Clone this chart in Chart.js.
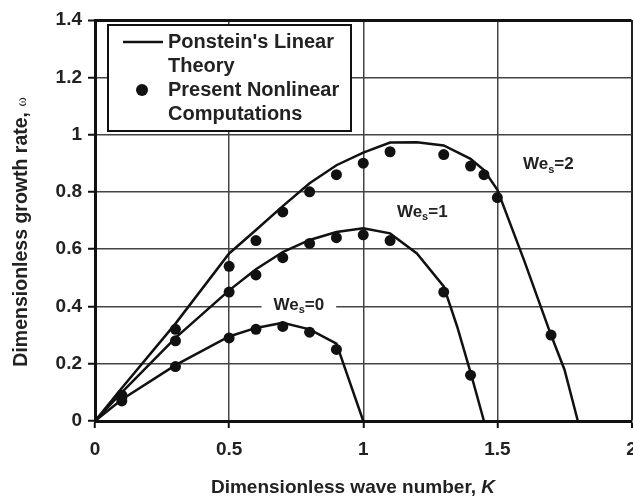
<!DOCTYPE html>
<html>
<head>
<meta charset="utf-8">
<script src="https://cdn.jsdelivr.net/npm/chart.js@4.4.1/dist/chart.umd.min.js"></script>
<style>
  html, body { margin: 0; padding: 0; background: #fff; overflow: hidden; }
  /* a little wider than the window so the "2" tick label is cut at the edge */
  #wrap { width: 637px; height: 499px; position: relative; }
</style>
</head>
<body>
<div id="wrap"><canvas id="growth-chart"></canvas></div>
<script>
// Ponstein's linear theory (solid lines), one per We_s
const theoryK0 = [0, 0.1, 0.3, 0.5, 0.6, 0.7, 0.8, 0.9, 1.0];
const theoryW0 = [0, 0.075, 0.195, 0.295, 0.325, 0.343, 0.32, 0.27, 0];

const theoryK1 = [0, 0.1, 0.3, 0.5, 0.6, 0.7, 0.8, 0.9, 1.0, 1.1, 1.2, 1.3, 1.35, 1.4, 1.45];
const theoryW1 = [0, 0.1, 0.29, 0.456, 0.53, 0.59, 0.632, 0.66, 0.673, 0.655, 0.585, 0.47, 0.33, 0.17, 0];

const theoryK2 = [0, 0.1, 0.3, 0.5, 0.6, 0.7, 0.8, 0.9, 1.0, 1.1, 1.2, 1.3, 1.4, 1.45, 1.5, 1.6, 1.7, 1.75, 1.8];
const theoryW2 = [0, 0.115, 0.34, 0.585, 0.667, 0.75, 0.83, 0.893, 0.937, 0.972, 0.973, 0.962, 0.915, 0.876, 0.807, 0.56, 0.3, 0.18, 0];

// present nonlinear computations (dots)
const compK0 = [0.1, 0.3, 0.5, 0.6, 0.7, 0.8, 0.9];
const compW0 = [0.07, 0.19, 0.29, 0.32, 0.33, 0.31, 0.25];

const compK1 = [0.1, 0.3, 0.5, 0.6, 0.7, 0.8, 0.9, 1.0, 1.1, 1.3, 1.4];
const compW1 = [0.08, 0.28, 0.45, 0.51, 0.57, 0.62, 0.64, 0.65, 0.63, 0.45, 0.16];

const compK2 = [0.1, 0.3, 0.5, 0.6, 0.7, 0.8, 0.9, 1.0, 1.1, 1.3, 1.4, 1.45, 1.5, 1.7];
const compW2 = [0.09, 0.32, 0.54, 0.63, 0.73, 0.80, 0.86, 0.90, 0.94, 0.93, 0.89, 0.86, 0.78, 0.30];

const curveLabels = ["0", "1", "2"];
const labelK = [0.76, 1.22, 1.69];
const labelW = [0.405, 0.73, 0.895];

const FONT = "'Liberation Sans', Arial, sans-serif";

function pts(xs, ys) {
  return xs.map(function (x, i) { return { x: x, y: ys[i] }; });
}

function lineSet(xs, ys) {
  return {
    data: pts(xs, ys), showLine: true, borderColor: "#111", borderWidth: 2.5,
    pointRadius: 0, fill: false, tension: 0, order: 2
  };
}

function dotSet(xs, ys) {
  return {
    data: pts(xs, ys), showLine: false, backgroundColor: "#111", borderColor: "#111",
    pointRadius: 5.5, pointBorderWidth: 0, order: 1
  };
}

const annotations = {
  id: "annotations",
  afterDraw: function (chart) {
    const ctx = chart.ctx;
    const xs = chart.scales.x, ys = chart.scales.y;
    const area = chart.chartArea;
    ctx.save();

    // We_s labels
    curveLabels.forEach(function (lab, i) {
      const cx = xs.getPixelForValue(labelK[i]);
      const cy = ys.getPixelForValue(labelW[i]);
      ctx.font = "bold 17px " + FONT;
      const w1 = ctx.measureText("We").width;
      const w3 = ctx.measureText("=" + lab).width;
      ctx.font = "bold 11px " + FONT;
      const w2 = ctx.measureText("s").width;
      const total = w1 + w2 + w3;
      let x = cx - total / 2;
      if (i === 0) {
        ctx.fillStyle = "#fff";
        ctx.fillRect(x - 12, cy - 10, total + 24, 20);
      }
      ctx.fillStyle = "#222";
      ctx.textBaseline = "middle";
      ctx.textAlign = "left";
      ctx.font = "bold 17px " + FONT;
      ctx.fillText("We", x, cy);
      ctx.font = "bold 11px " + FONT;
      ctx.fillText("s", x + w1, cy + 5);
      ctx.font = "bold 17px " + FONT;
      ctx.fillText("=" + lab, x + w1 + w2, cy);
    });

    // legend box
    const lx = area.left + 13, ly = area.top + 5, lw = 243, lh = 106;
    ctx.fillStyle = "#fff";
    ctx.fillRect(lx, ly, lw, lh);
    ctx.strokeStyle = "#111";
    ctx.lineWidth = 2;
    ctx.strokeRect(lx, ly, lw, lh);
    ctx.beginPath();
    ctx.moveTo(lx + 15, ly + 17);
    ctx.lineTo(lx + 55, ly + 17);
    ctx.lineWidth = 2.5;
    ctx.stroke();
    ctx.beginPath();
    ctx.arc(lx + 34, ly + 65, 6, 0, Math.PI * 2);
    ctx.fillStyle = "#111";
    ctx.fill();
    ctx.fillStyle = "#222";
    ctx.font = "bold 20px " + FONT;
    ctx.textBaseline = "middle";
    ctx.fillText("Ponstein's Linear", lx + 60, ly + 17);
    ctx.fillText("Theory", lx + 60, ly + 41);
    ctx.fillText("Present Nonlinear", lx + 60, ly + 65);
    ctx.fillText("Computations", lx + 60, ly + 89);

    // x axis title with italic K
    ctx.font = "bold 19px " + FONT;
    const t1 = "Dimensionless wave number, ";
    const tw1 = ctx.measureText(t1).width;
    ctx.font = "italic bold 19px " + FONT;
    const tw2 = ctx.measureText("K").width;
    let tx = 353 - (tw1 + tw2) / 2;
    ctx.font = "bold 19px " + FONT;
    ctx.fillText(t1, tx, 488);
    ctx.font = "italic bold 19px " + FONT;
    ctx.fillText("K", tx + tw1, 488);

    // y axis title with omega
    ctx.translate(22, 232);
    ctx.rotate(-Math.PI / 2);
    ctx.font = "bold 19.5px " + FONT;
    const y1 = "Dimensionless growth rate, ";
    const yw1 = ctx.measureText(y1).width;
    ctx.font = "14px 'Liberation Serif', serif";
    const yw2 = ctx.measureText("\u03c9").width;
    const ty = -(yw1 + yw2) / 2;
    ctx.font = "bold 19.5px " + FONT;
    ctx.fillText(y1, ty, 0);
    ctx.font = "14px 'Liberation Serif', serif";
    ctx.fillText("\u03c9", ty + yw1, 0);
    ctx.restore();
  }
};

new Chart(document.getElementById("growth-chart"), {
  type: "scatter",
  data: {
    datasets: [
      lineSet(theoryK0, theoryW0),
      lineSet(theoryK1, theoryW1),
      lineSet(theoryK2, theoryW2),
      dotSet(compK0, compW0),
      dotSet(compK1, compW1),
      dotSet(compK2, compW2)
    ]
  },
  options: {
    responsive: true,
    maintainAspectRatio: false,
    animation: false,
    devicePixelRatio: 1,
    layout: { padding: { top: 20, right: 0, left: 0, bottom: 0 } },
    plugins: { legend: { display: false }, tooltip: { enabled: false } },
    scales: {
      x: {
        type: "linear", min: 0, max: 2,
        ticks: {
          stepSize: 0.5, padding: 10, color: "#222",
          font: { family: FONT, size: 19, weight: "bold" },
          callback: function (v) { return String(+v.toFixed(1)); }
        },
        grid: {
          color: function (c) { return c.tick && c.tick.value === 2 ? "#222" : "#444"; },
          lineWidth: function (c) { return c.tick && c.tick.value === 2 ? 2 : 1.5; },
          tickLength: 7, tickColor: "#111", tickWidth: 2
        },
        border: { color: "#111", width: 3 },
        afterFit: function (s) { s.height = 78; s.paddingLeft = 0; s.paddingRight = 0; }
      },
      y: {
        type: "linear", min: 0, max: 1.4,
        ticks: {
          stepSize: 0.2, padding: 6, color: "#222",
          font: { family: FONT, size: 19, weight: "bold" },
          callback: function (v) { return String(+v.toFixed(1)); }
        },
        grid: {
          color: function (c) { return c.tick && Math.abs(c.tick.value - 1.4) < 1e-6 ? "#111" : "#444"; },
          lineWidth: function (c) { return c.tick && Math.abs(c.tick.value - 1.4) < 1e-6 ? 3 : 1.5; },
          tickLength: 7, tickColor: "#111", tickWidth: 2
        },
        border: { color: "#111", width: 3 },
        afterFit: function (s) { s.width = 95; s.paddingTop = 0; s.paddingBottom = 0; }
      }
    }
  },
  plugins: [annotations]
});
</script>
</body>
</html>
